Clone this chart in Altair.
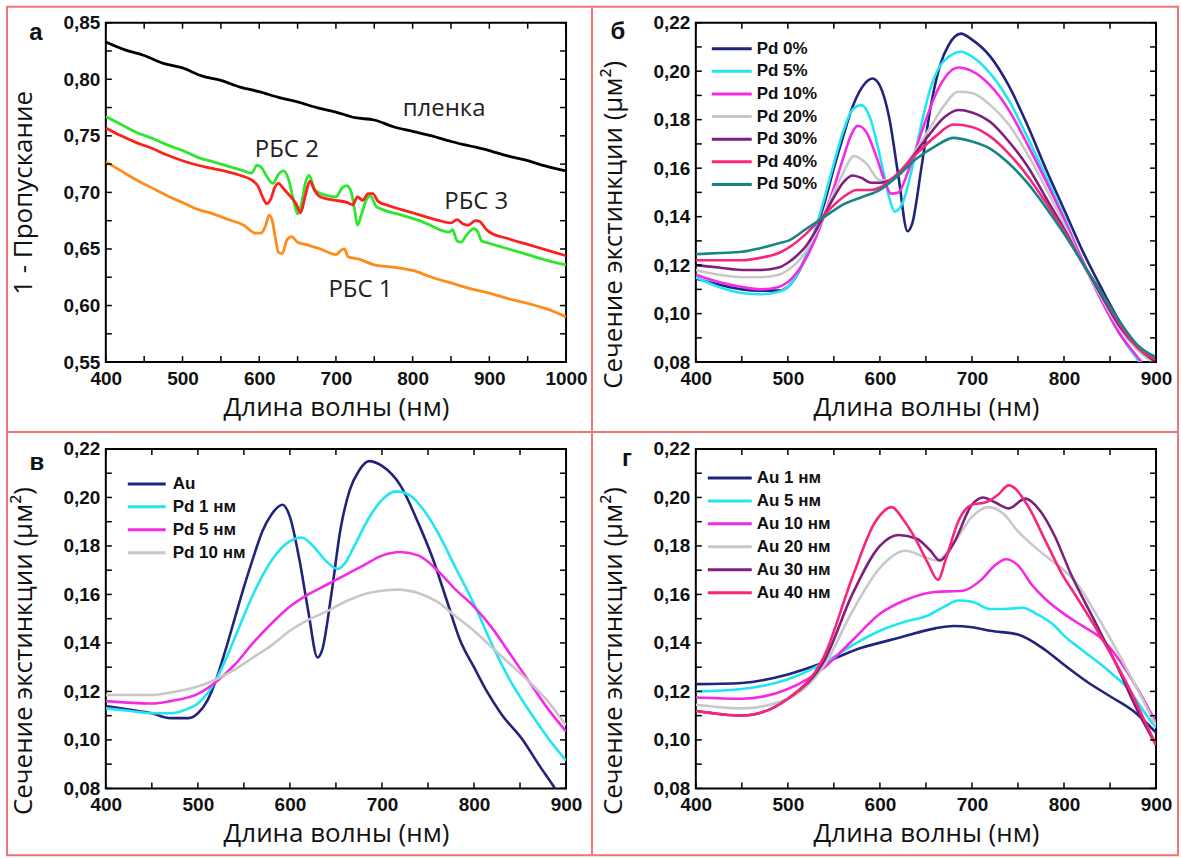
import altair as alt
import pandas as pd

FONT_T = "Open Sans"
FONT_L = "Liberation Sans"
W, H = 461, 340

# ---------------- panel a ----------------
a_series = ["пленка", "green", "red", "orange"]
a_colors = ["#000000", "#2ee62e", "#ff1f1f", "#ff8c1a"]
a_wl_film = [400, 425, 450, 475, 500, 525, 550, 575, 600, 625, 650, 675, 700, 725, 750, 775, 800, 825, 850, 875, 900, 925, 950, 975, 1000]
a_film = [0.833, 0.826, 0.821, 0.814, 0.810, 0.803, 0.799, 0.793, 0.789, 0.784, 0.780, 0.775, 0.771, 0.766, 0.764, 0.758, 0.754, 0.750, 0.745, 0.741, 0.737, 0.732, 0.728, 0.723, 0.719]
a_wl_green = [400, 420, 440, 460, 480, 500, 520, 540, 560, 580, 590, 597, 603, 610, 618, 625, 632, 638, 645, 650, 655, 660, 665, 672, 680, 690, 700, 708, 714, 720, 725, 728, 733, 740, 745, 752, 760, 780, 800, 820, 840, 848, 852, 858, 863, 870, 880, 885, 890, 900, 925, 950, 975, 1000]
a_green = [0.767, 0.760, 0.753, 0.748, 0.742, 0.737, 0.731, 0.727, 0.723, 0.719, 0.717, 0.724, 0.722, 0.714, 0.708, 0.716, 0.719, 0.712, 0.692, 0.681, 0.690, 0.708, 0.715, 0.703, 0.699, 0.697, 0.696, 0.704, 0.706, 0.700, 0.682, 0.671, 0.680, 0.694, 0.697, 0.688, 0.685, 0.681, 0.677, 0.672, 0.666, 0.665, 0.667, 0.657, 0.656, 0.662, 0.668, 0.665, 0.657, 0.655, 0.650, 0.645, 0.640, 0.636]
a_wl_red = [400, 420, 440, 460, 480, 500, 520, 540, 560, 580, 590, 598, 605, 610, 615, 620, 625, 632, 640, 648, 654, 660, 666, 672, 680, 700, 715, 722, 728, 735, 742, 748, 755, 770, 800, 830, 850, 858, 866, 872, 882, 888, 895, 900, 925, 950, 975, 1000]
a_red = [0.757, 0.750, 0.744, 0.739, 0.733, 0.728, 0.724, 0.721, 0.718, 0.714, 0.711, 0.706, 0.695, 0.690, 0.694, 0.704, 0.708, 0.703, 0.697, 0.690, 0.682, 0.697, 0.710, 0.702, 0.696, 0.693, 0.691, 0.689, 0.696, 0.693, 0.699, 0.699, 0.692, 0.688, 0.682, 0.676, 0.673, 0.676, 0.672, 0.671, 0.675, 0.674, 0.668, 0.665, 0.659, 0.654, 0.649, 0.644]
a_wl_orange = [400, 420, 440, 460, 480, 500, 520, 540, 560, 580, 595, 602, 608, 613, 617, 621, 625, 630, 636, 642, 650, 660, 680, 700, 707, 711, 716, 730, 750, 775, 800, 825, 850, 875, 900, 925, 950, 975, 1000]
a_orange = [0.727, 0.719, 0.711, 0.704, 0.697, 0.691, 0.685, 0.681, 0.676, 0.671, 0.664, 0.664, 0.670, 0.680, 0.675, 0.660, 0.647, 0.646, 0.658, 0.661, 0.656, 0.654, 0.650, 0.645, 0.649, 0.650, 0.643, 0.641, 0.636, 0.634, 0.631, 0.625, 0.620, 0.615, 0.611, 0.606, 0.602, 0.597, 0.590]
a_labels = ["пленка", "РБС 2", "РБС 3", "РБС 1"]
a_label_wl = [841, 636, 883, 732]
a_label_val = [0.7735, 0.7374, 0.6917, 0.614]

# ---------------- panel б ----------------
b_series = ["Pd 0%", "Pd 5%", "Pd 10%", "Pd 20%", "Pd 30%", "Pd 40%", "Pd 50%"]
b_colors = ["#22237a", "#1fe6f0", "#f52ae6", "#c8c8c8", "#7f1f7f", "#f8267a", "#168585"]
b_wl = [
    [400, 425, 450, 470, 490, 500, 510, 520, 530, 540, 550, 560, 570, 580, 592, 600, 610, 620, 630, 635, 645, 655, 665, 675, 688, 700, 720, 740, 760, 780, 800, 820, 840, 860, 880, 900],
    [400, 425, 450, 470, 490, 500, 510, 520, 530, 540, 550, 560, 570, 580, 590, 600, 610, 616, 625, 635, 645, 655, 665, 675, 688, 700, 720, 740, 760, 780, 800, 820, 840, 860, 880, 890],
    [400, 425, 450, 470, 490, 500, 510, 520, 530, 540, 550, 560, 568, 576, 585, 595, 605, 612, 620, 630, 640, 650, 660, 670, 685, 700, 720, 740, 760, 780, 800, 820, 840, 860, 880, 890],
    [400, 425, 450, 470, 490, 500, 510, 520, 530, 540, 550, 560, 572, 585, 600, 612, 625, 640, 655, 670, 685, 700, 720, 740, 760, 780, 800, 820, 840, 860, 880, 900],
    [400, 425, 450, 470, 490, 500, 510, 520, 530, 540, 550, 560, 570, 580, 590, 600, 615, 630, 650, 670, 685, 700, 720, 740, 760, 780, 800, 820, 840, 860, 880, 900],
    [400, 425, 450, 470, 490, 500, 520, 540, 560, 575, 590, 600, 620, 640, 660, 680, 700, 720, 740, 760, 780, 800, 820, 840, 860, 880, 900],
    [400, 425, 450, 470, 490, 500, 520, 540, 560, 580, 600, 620, 640, 660, 680, 700, 720, 740, 760, 780, 800, 820, 840, 860, 880, 900],
]
b_val = [
    [0.1145, 0.112, 0.110, 0.1095, 0.1095, 0.111, 0.116, 0.124, 0.134, 0.146, 0.160, 0.173, 0.185, 0.193, 0.197, 0.194, 0.181, 0.157, 0.134, 0.137, 0.160, 0.185, 0.202, 0.211, 0.2155, 0.213, 0.206, 0.194, 0.178, 0.160, 0.143, 0.126, 0.111, 0.097, 0.086, 0.081],
    [0.115, 0.111, 0.1085, 0.108, 0.109, 0.111, 0.116, 0.124, 0.135, 0.148, 0.162, 0.175, 0.184, 0.186, 0.180, 0.165, 0.148, 0.142, 0.146, 0.160, 0.178, 0.193, 0.202, 0.206, 0.208, 0.206, 0.199, 0.188, 0.173, 0.157, 0.140, 0.122, 0.106, 0.092, 0.081, 0.076],
    [0.116, 0.113, 0.111, 0.110, 0.111, 0.113, 0.117, 0.123, 0.131, 0.141, 0.152, 0.164, 0.173, 0.1775, 0.175, 0.166, 0.155, 0.1495, 0.150, 0.158, 0.169, 0.180, 0.190, 0.197, 0.2015, 0.200, 0.194, 0.184, 0.170, 0.155, 0.139, 0.122, 0.106, 0.092, 0.082, 0.077],
    [0.118, 0.116, 0.115, 0.115, 0.116, 0.118, 0.121, 0.126, 0.133, 0.141, 0.150, 0.158, 0.165, 0.162, 0.155, 0.155, 0.160, 0.168, 0.177, 0.186, 0.1915, 0.191, 0.186, 0.178, 0.166, 0.152, 0.137, 0.121, 0.107, 0.094, 0.085, 0.079],
    [0.120, 0.119, 0.118, 0.118, 0.119, 0.121, 0.124, 0.128, 0.134, 0.141, 0.148, 0.154, 0.157, 0.156, 0.154, 0.154, 0.156, 0.162, 0.172, 0.181, 0.184, 0.183, 0.179, 0.171, 0.161, 0.148, 0.135, 0.121, 0.108, 0.095, 0.086, 0.080],
    [0.122, 0.122, 0.122, 0.123, 0.125, 0.127, 0.133, 0.141, 0.148, 0.151, 0.151, 0.152, 0.158, 0.166, 0.173, 0.178, 0.177, 0.173, 0.166, 0.157, 0.146, 0.134, 0.121, 0.109, 0.096, 0.086, 0.081],
    [0.1245, 0.125, 0.1255, 0.127, 0.129, 0.130, 0.135, 0.140, 0.145, 0.148, 0.151, 0.157, 0.164, 0.169, 0.1725, 0.171, 0.168, 0.162, 0.154, 0.144, 0.133, 0.121, 0.109, 0.097, 0.087, 0.082],
]

# ---------------- panel в ----------------
c_series = ["Au", "Pd 1 нм", "Pd 5 нм", "Pd 10 нм"]
c_colors = ["#22237a", "#1fe6f0", "#f52ae6", "#c8c8c8"]
c_wl = [
    [400, 425, 450, 470, 490, 500, 510, 520, 530, 540, 550, 560, 570, 580, 592, 600, 610, 620, 630, 635, 645, 655, 665, 675, 686, 700, 720, 740, 755, 770, 785, 800, 814, 830, 853, 870, 888, 900],
    [400, 425, 450, 470, 490, 500, 510, 520, 530, 540, 560, 580, 600, 613, 625, 640, 652, 660, 670, 685, 700, 715, 730, 745, 760, 780, 800, 820, 840, 860, 880, 900],
    [400, 450, 470, 500, 520, 540, 560, 580, 600, 620, 640, 660, 680, 700, 720, 740, 760, 780, 800, 820, 840, 860, 880, 900],
    [400, 450, 470, 500, 520, 540, 560, 580, 600, 620, 640, 660, 680, 700, 718, 740, 760, 780, 800, 820, 840, 860, 880, 900],
]
c_val = [
    [0.114, 0.1125, 0.111, 0.109, 0.109, 0.111, 0.116, 0.125, 0.137, 0.150, 0.163, 0.175, 0.186, 0.193, 0.197, 0.192, 0.175, 0.153, 0.134, 0.137, 0.160, 0.187, 0.203, 0.211, 0.215, 0.213, 0.205, 0.189, 0.175, 0.158, 0.141, 0.130, 0.120, 0.1105, 0.100, 0.090, 0.080, 0.073],
    [0.113, 0.112, 0.111, 0.111, 0.113, 0.115, 0.119, 0.125, 0.133, 0.142, 0.160, 0.174, 0.182, 0.1835, 0.180, 0.1735, 0.1705, 0.173, 0.180, 0.191, 0.199, 0.2025, 0.201, 0.195, 0.186, 0.171, 0.156, 0.139, 0.124, 0.112, 0.101, 0.0915],
    [0.116, 0.115, 0.116, 0.119, 0.124, 0.131, 0.140, 0.148, 0.155, 0.160, 0.164, 0.168, 0.172, 0.176, 0.1775, 0.176, 0.170, 0.162, 0.155, 0.146, 0.135, 0.124, 0.113, 0.1035],
    [0.1185, 0.1185, 0.1195, 0.122, 0.125, 0.129, 0.134, 0.139, 0.145, 0.1495, 0.153, 0.157, 0.160, 0.1615, 0.162, 0.1605, 0.157, 0.151, 0.145, 0.138, 0.131, 0.124, 0.116, 0.106],
]

# ---------------- panel г ----------------
d_series = ["Au 1 нм", "Au 5 нм", "Au 10 нм", "Au 20 нм", "Au 30 нм", "Au 40 нм"]
d_colors = ["#22237a", "#1fe6f0", "#f52ae6", "#c8c8c8", "#7f1f7f", "#f8267a"]
d_wl = [
    [400, 450, 500, 540, 580, 620, 660, 680, 700, 720, 750, 780, 800, 825, 850, 875, 900],
    [400, 450, 500, 540, 570, 600, 630, 650, 670, 685, 700, 720, 735, 755, 770, 790, 800, 820, 850, 870, 890, 900],
    [400, 450, 500, 540, 570, 600, 630, 660, 690, 710, 725, 737, 750, 765, 780, 800, 820, 840, 860, 880, 900],
    [400, 450, 500, 540, 570, 600, 628, 645, 662, 680, 700, 718, 735, 750, 770, 790, 800, 815, 830, 850, 870, 885, 900],
    [400, 450, 500, 540, 570, 600, 620, 640, 655, 665, 680, 700, 712, 725, 740, 758, 775, 790, 808, 832, 857, 880, 900],
    [400, 450, 500, 540, 570, 595, 613, 625, 640, 652, 663, 672, 685, 700, 715, 728, 740, 760, 780, 800, 812, 830, 850, 870, 890, 900],
]
d_val = [
    [0.123, 0.1235, 0.127, 0.132, 0.138, 0.142, 0.146, 0.147, 0.1465, 0.145, 0.1435, 0.137, 0.131, 0.124, 0.118, 0.112, 0.103],
    [0.120, 0.121, 0.125, 0.132, 0.139, 0.145, 0.149, 0.151, 0.155, 0.1575, 0.157, 0.154, 0.154, 0.1545, 0.152, 0.147, 0.143, 0.137, 0.128, 0.121, 0.110, 0.105],
    [0.1175, 0.117, 0.121, 0.130, 0.141, 0.152, 0.158, 0.161, 0.1615, 0.166, 0.172, 0.1745, 0.172, 0.164, 0.158, 0.152, 0.147, 0.142, 0.133, 0.121, 0.107],
    [0.1145, 0.113, 0.117, 0.131, 0.153, 0.171, 0.178, 0.176, 0.174, 0.181, 0.192, 0.196, 0.193, 0.186, 0.179, 0.173, 0.170, 0.164, 0.155, 0.142, 0.128, 0.117, 0.106],
    [0.112, 0.110, 0.117, 0.133, 0.160, 0.180, 0.1845, 0.183, 0.178, 0.174, 0.181, 0.197, 0.200, 0.198, 0.1955, 0.1995, 0.194, 0.184, 0.168, 0.150, 0.131, 0.112, 0.098],
    [0.112, 0.110, 0.117, 0.135, 0.167, 0.190, 0.196, 0.191, 0.182, 0.173, 0.166, 0.175, 0.190, 0.197, 0.198, 0.201, 0.205, 0.197, 0.182, 0.167, 0.160, 0.149, 0.136, 0.122, 0.106, 0.098],
]

# tick values
a_xticks = [400, 500, 600, 700, 800, 900, 1000]
a_xminor = [400, 450, 500, 550, 600, 650, 700, 750, 800, 850, 900, 950, 1000]
a_yticks = [0.55, 0.60, 0.65, 0.70, 0.75, 0.80, 0.85]
a_yminor = [0.55, 0.575, 0.60, 0.625, 0.65, 0.675, 0.70, 0.725, 0.75, 0.775, 0.80, 0.825, 0.85]
s_xticks = [400, 500, 600, 700, 800, 900]
s_xminor = [400, 450, 500, 550, 600, 650, 700, 750, 800, 850, 900]
s_yticks = [0.08, 0.10, 0.12, 0.14, 0.16, 0.18, 0.20, 0.22]
s_yminor = [0.08, 0.09, 0.10, 0.11, 0.12, 0.13, 0.14, 0.15, 0.16, 0.17, 0.18, 0.19, 0.20, 0.21, 0.22]

XTITLE = "Длина волны (нм)"
YTITLE_S = "Сечение экстинкции (μм²)"


def long_df(series, wls, vals):
    rows = []
    for name, w, v in zip(series, wls, vals):
        for x, y in zip(w, v):
            rows.append({"s": name, "wl": x, "val": y})
    return pd.DataFrame(rows)


def legend_layers(series, colors, y0, y1, x0, x1, xl):
    ldf = pd.DataFrame({"s": series})
    ly = alt.Y("s:N", scale=alt.Scale(type="point", domain=series, range=[y0, y1], padding=0), axis=None)
    col = alt.Color("s:N", scale=alt.Scale(domain=series, range=colors), legend=None)
    r = alt.Chart(ldf).mark_rule(strokeWidth=3).encode(x=alt.value(x0), x2=alt.value(x1), y=ly, color=col)
    t = alt.Chart(ldf).mark_text(align="left", baseline="middle", font=FONT_L, fontWeight="bold",
                                 fontSize=17, color="#111").encode(x=alt.value(xl), y=ly, text="s:N")
    return [r, t]


def panel(df, series, colors, xdom, ydom, xt, xm, yt, ym, ytitle, letter, letter_xy,
          extra=None, legend=None, line_w=2.6, title_y=None):
    xs = alt.Scale(domain=xdom, nice=False, zero=False)
    ys = alt.Scale(domain=ydom, nice=False, zero=False)
    xax = alt.Axis(values=xt, ticks=False, domain=False, grid=False, title=XTITLE, format="d",
                   labelFont=FONT_L, labelFontWeight="bold", labelFontSize=19, labelColor="#111",
                   labelPadding=7, titleFont=FONT_T, titleFontWeight="normal", titleFontSize=26,
                   titleColor="#111", titlePadding=6, labelFlush=False)
    yax_kw = dict(values=yt, ticks=False, domain=False, grid=False, title=ytitle,
                  labelExpr="replace(format(datum.value, '.2f'), '.', ',')",
                  labelFont=FONT_L, labelFontWeight="bold", labelFontSize=19, labelColor="#111",
                  labelPadding=6, titleFont=FONT_T, titleFontWeight="normal", titleFontSize=26,
                  titleColor="#111", titlePadding=26, labelFlush=False)
    if title_y is not None:
        yax_kw["titleY"] = title_y
    yax = alt.Axis(**yax_kw)
    X = alt.X("wl:Q", scale=xs, axis=xax)
    Y = alt.Y("val:Q", scale=ys, axis=yax)
    Yn = alt.Y("val:Q", scale=ys, axis=None)

    lines = alt.Chart(df).mark_line(strokeWidth=line_w, interpolate="monotone", clip=True).encode(
        x=X, y=Y,
        color=alt.Color("s:N", scale=alt.Scale(domain=series, range=colors), legend=None),
        detail="s:N",
        order=alt.Order("wl:Q"),
    )
    xdf = pd.DataFrame({"wl": xm})
    ydf = pd.DataFrame({"val": ym})
    tick_style = dict(color="black", strokeWidth=1.5)
    tb = alt.Chart(xdf).mark_rule(**tick_style).encode(x=X, y=alt.value(H), y2=alt.value(H - 6))
    tt = alt.Chart(xdf).mark_rule(**tick_style).encode(x=X, y=alt.value(0), y2=alt.value(6))
    tl = alt.Chart(ydf).mark_rule(**tick_style).encode(y=Yn, x=alt.value(0), x2=alt.value(6))
    tr = alt.Chart(ydf).mark_rule(**tick_style).encode(y=Yn, x=alt.value(W), x2=alt.value(W - 6))
    let = alt.Chart(alt.Data(values=[{"t": letter}])).mark_text(
        font=FONT_L, fontWeight="bold", fontSize=24, color="#111", align="center", baseline="middle"
    ).encode(x=alt.value(letter_xy[0]), y=alt.value(letter_xy[1]), text="t:N")
    layers = [lines, tb, tt, tl, tr, let]
    if extra is not None:
        layers = extra(X, Yn) + layers
    if legend is not None:
        layers = layers + legend
    return alt.layer(*layers).resolve_scale(y="independent").properties(width=W, height=H)


# frame (drawn in panel a coordinates)
RED = "#f07676"


def frame_and_labels(X, Yn):
    lab_df = pd.DataFrame({"label": a_labels, "wl": a_label_wl, "val": a_label_val})
    txt = alt.Chart(lab_df).mark_text(font=FONT_T, fontSize=24, color="#222", align="center",
                                      baseline="middle").encode(x=X, y=Yn, text="label:N")
    return [
        alt.Chart(alt.Data(values=[{}])).mark_rect(fillOpacity=0, stroke=RED, strokeWidth=2).encode(
            x=alt.value(-99), x2=alt.value(1074), y=alt.value(-16), y2=alt.value(834)),
        alt.Chart(alt.Data(values=[{}])).mark_rule(color=RED, strokeWidth=2).encode(
            x=alt.value(487), y=alt.value(-16), y2=alt.value(834)),
        alt.Chart(alt.Data(values=[{}])).mark_rule(color=RED, strokeWidth=2).encode(
            y=alt.value(410), x=alt.value(-99), x2=alt.value(1074)),
        txt,
    ]


df_a = long_df(a_series, [a_wl_film, a_wl_green, a_wl_red, a_wl_orange], [a_film, a_green, a_red, a_orange])
pa = panel(df_a, a_series, a_colors, [400, 1000], [0.55, 0.85], a_xticks, a_xminor, a_yticks, a_yminor,
           "1 - Пропускание", "а", (-70, 10), extra=frame_and_labels, line_w=2.8)

df_b = long_df(b_series, b_wl, b_val)
pb = panel(df_b, b_series, b_colors, [400, 900], [0.08, 0.22], s_xticks, s_xminor, s_yticks, s_yminor,
           YTITLE_S, "б", (-78, 9), legend=legend_layers(b_series, b_colors, 26, 162, 16, 56, 61),
           title_y=H / 2 + 32)
df_c = long_df(c_series, c_wl, c_val)
pc = panel(df_c, c_series, c_colors, [400, 900], [0.08, 0.22], s_xticks, s_xminor, s_yticks, s_yminor,
           YTITLE_S, "в", (-69, 14), legend=legend_layers(c_series, c_colors, 35, 104, 22, 60, 67),
           title_y=H / 2 + 32)
df_d = long_df(d_series, d_wl, d_val)
pd_ = panel(df_d, d_series, d_colors, [400, 900], [0.08, 0.22], s_xticks, s_xminor, s_yticks, s_yminor,
            YTITLE_S, "г", (-69, 10), legend=legend_layers(d_series, d_colors, 29, 144, 12, 56, 61),
            title_y=H / 2 + 32)

chart = alt.concat(pa, pb, pc, pd_, columns=2, spacing={"row": 87, "column": 130}, bounds="flush").resolve_scale(
    color="independent"
).properties(
    padding={"left": 5, "top": 4, "right": 1, "bottom": 1},
    background="white",
).configure_view(stroke="black", strokeWidth=2)

chart.save("out.html", embed_options={"renderer": "svg", "actions": False})
